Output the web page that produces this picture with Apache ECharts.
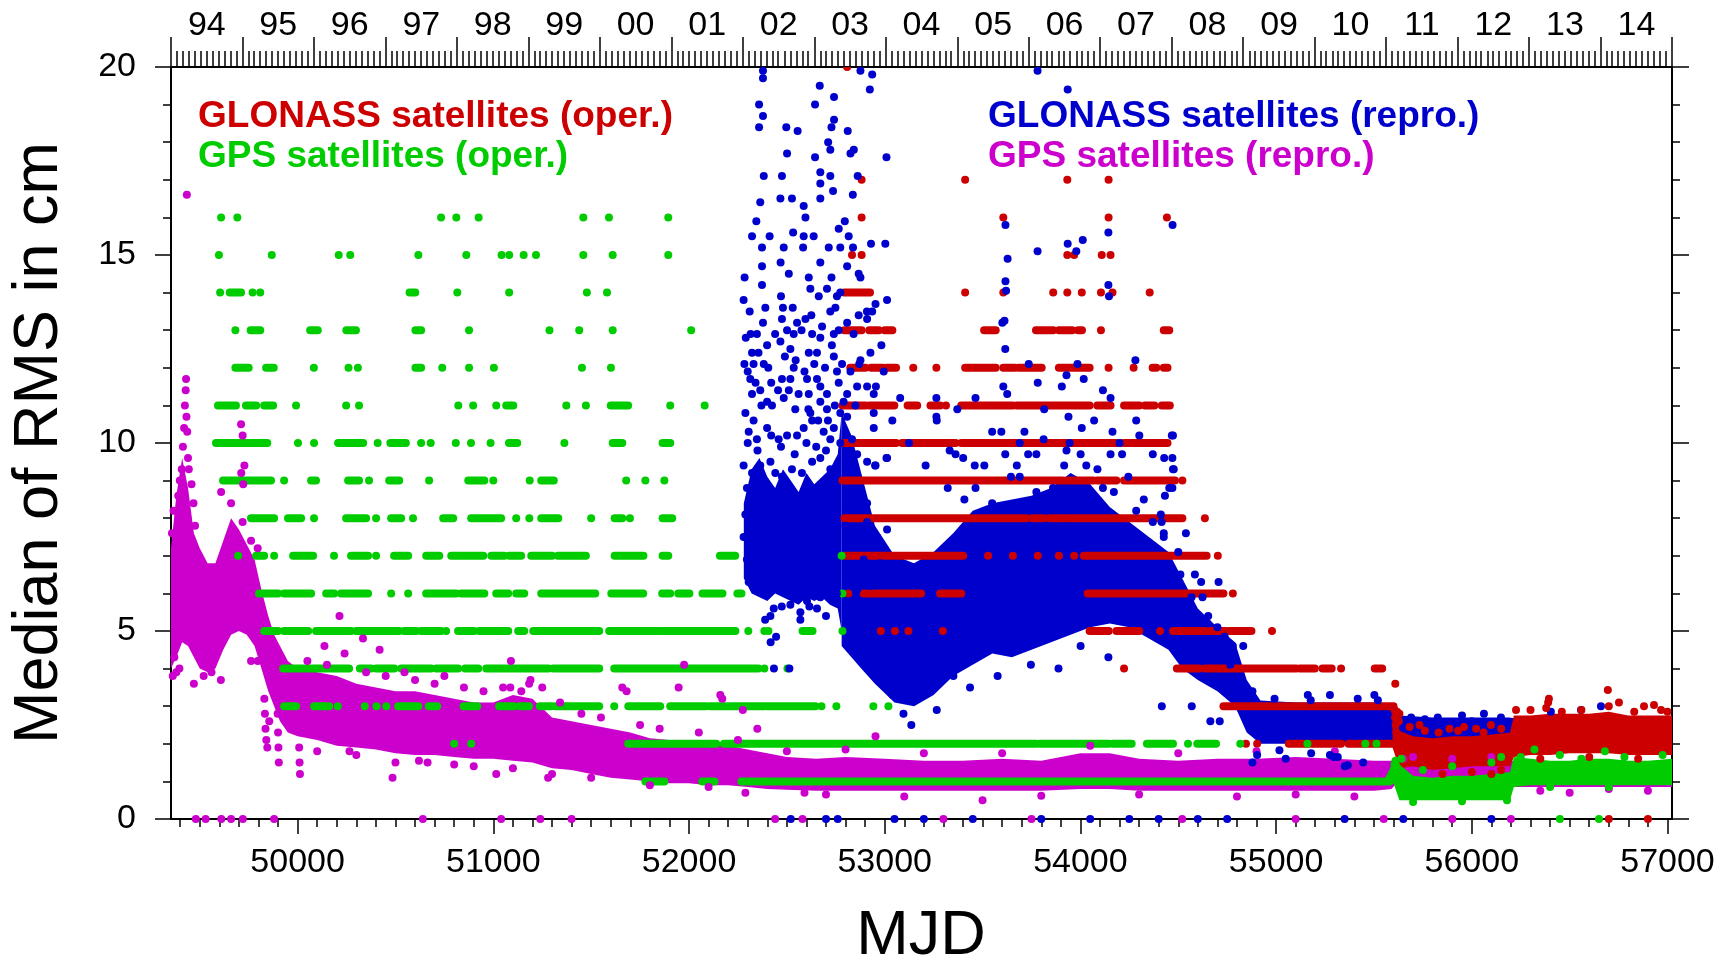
<!DOCTYPE html>
<html>
<head>
<meta charset="utf-8">
<title>Median of RMS</title>
<script src="https://cdn.jsdelivr.net/npm/echarts@6.0.0/dist/echarts.min.js"></script>
<style>
  html, body { margin: 0; padding: 0; background: #fff; }
  #chart { width: 1735px; height: 965px; }
</style>
</head>
<body>
<div id="chart"></div>
<script>
// axis values
const xMin = 49353
const xMax = 57023
const xMajorTicks = [50000, 51000, 52000, 53000, 54000, 55000, 56000, 57000]
const yearStarts = [49353, 49718, 50083, 50449, 50814, 51179, 51544, 51910, 52275, 52640, 53005,
  53371, 53736, 54101, 54466, 54832, 55197, 55562, 55927, 56293, 56658, 57023]
const yearLabels = ['94', '95', '96', '97', '98', '99', '00', '01', '02', '03', '04',
  '05', '06', '07', '08', '09', '10', '11', '12', '13', '14']

// GPS satellites (repro.) - dense cloud envelope + loose points
const gpsReproBandX = [49353, 49380, 49410, 49440, 49470, 49500, 49540, 49580, 49620, 49660, 49700, 49740, 49780,
  49815, 49850, 49880, 49910, 49950, 50000, 50100, 50200, 50300, 50400, 50500, 50600, 50700, 50800, 50900, 51000,
  51100, 51200, 51300, 51400, 51500, 51600, 51700, 51800, 51900, 52000, 52100, 52200, 52300, 52400, 52500, 52650,
  52800, 53000, 53200, 53400, 53600, 53800, 54000, 54150, 54300, 54500, 54700, 54900, 55100, 55300, 55500, 55590,
  55630, 55800, 56000, 56190, 56220, 56500, 56800, 57023]
const gpsReproBandLo = [4.0, 4.3, 4.7, 4.6, 4.3, 4.0, 3.9, 4.0, 4.5, 4.9, 5.0, 4.9, 4.6,
  4.0, 3.4, 3.0, 2.6, 2.3, 2.2, 2.1, 1.95, 1.9, 1.85, 1.75, 1.7, 1.7, 1.65, 1.6, 1.6,
  1.55, 1.5, 1.35, 1.3, 1.2, 1.1, 1.05, 1.0, 0.95, 0.95, 0.9, 0.9, 0.85, 0.8, 0.78, 0.75,
  0.75, 0.75, 0.75, 0.75, 0.75, 0.75, 0.8, 0.8, 0.75, 0.75, 0.75, 0.75, 0.75, 0.75, 0.75, 0.8,
  1.05, 1.05, 1.05, 1.05, 0.85, 0.85, 0.85, 0.85]
const gpsReproBandHi = [7.2, 8.6, 9.6, 8.8, 7.6, 7.2, 6.8, 6.8, 7.4, 8.0, 7.7, 7.3, 6.9,
  6.1, 5.4, 4.9, 4.6, 4.2, 4.0, 3.9, 3.8, 3.6, 3.5, 3.4, 3.4, 3.3, 3.2, 3.1, 3.1,
  3.3, 3.2, 2.7, 2.6, 2.5, 2.4, 2.3, 2.15, 2.1, 2.05, 2.0, 1.95, 1.85, 1.75, 1.65, 1.6,
  1.65, 1.6, 1.55, 1.55, 1.6, 1.55, 1.75, 1.75, 1.6, 1.55, 1.6, 1.6, 1.65, 1.6, 1.55, 1.55,
  1.6, 1.6, 1.6, 1.6, 1.5, 1.5, 1.5, 1.5]
const gpsReproPoints = [[49434, 16.6], [49430, 11.7], [49428, 11.4], [49424, 11.0], [49432, 10.7], [49420, 10.4],
  [49436, 10.3], [49414, 9.9], [49440, 9.6], [49444, 9.3], [49408, 9.3], [49398, 9.0], [49390, 8.6], [49458, 8.9],
  [49468, 8.4], [49476, 7.8], [49366, 8.2], [49358, 7.6], [49362, 3.8], [49370, 4.3], [49380, 3.9], [49396, 4.0],
  [49470, 3.6], [49520, 3.8], [49490, 4.6], [49560, 3.9], [49608, 3.7], [49609, 8.7], [49660, 8.4], [49711, 10.5],
  [49719, 10.2], [49728, 9.4], [49722, 8.9], [49712, 9.2], [49719, 7.9], [49762, 7.4], [49796, 7.2], [49762, 4.2],
  [49796, 4.2], [49830, 3.2], [49833, 2.8], [49836, 2.4], [49840, 2.1], [49845, 1.9], [49855, 2.6], [49898, 2.8],
  [49900, 2.3], [49902, 1.9], [49904, 1.5], [50008, 1.9], [50010, 1.5], [50012, 1.2], [50265, 1.8], [50485, 1.1],
  [50664, 1.5], [51015, 1.2], [51280, 1.1], [50214, 5.4], [50137, 4.6], [50240, 4.4], [50334, 4.8], [50419, 4.5],
  [50546, 3.9], [50750, 3.8], [51090, 4.2], [51183, 3.6], [51190, 3.7], [51087, 3.5], [51143, 3.4], [51341, 3.1],
  [51659, 3.5], [51681, 3.4], [51947, 3.5], [51975, 4.1], [52160, 3.3], [52170, 3.2], [52275, 2.9], [52349, 2.4],
  [52953, 2.2], [52288, 0.7], [52590, 0.7], [53500, 0.5], [52700, 0.65], [53100, 0.6], [53800, 0.62], [54300, 0.65],
  [54800, 0.6], [55100, 0.65], [55400, 0.6], [55650, 1.6], [55700, 1.65], [55900, 1.6], [56100, 1.65], [56350, 0.75],
  [56500, 0.7], [56700, 0.8], [56900, 0.75],
  [50050, 4.2], [50150, 4.1], [50350, 3.9], [50450, 3.8], [50600, 3.7], [50700, 3.6], [50850, 3.5], [50950, 3.4],
  [51050, 3.5], [51250, 3.5], [51450, 2.8], [51550, 2.7], [51750, 2.5], [51850, 2.4], [52050, 2.3], [52250, 2.1],
  [52500, 1.8], [52800, 1.85], [53200, 1.75], [53600, 1.75], [54050, 1.95], [54500, 1.75], [54900, 1.8], [55300, 1.8],
  [50100, 1.8], [50300, 1.7], [50500, 1.5], [50800, 1.45], [51100, 1.35], [51300, 1.2], [51500, 1.1], [51800, 0.9],
  [52100, 0.85], [50620, 1.55], [50900, 1.4],
  [49480, 0], [49530, 0], [49610, 0], [49660, 0], [49720, 0], [49880, 0],
  [50640, 0], [51040, 0], [51240, 0], [51400, 0], [52440, 0], [52580, 0], [53300, 0], [53750, 0], [54520, 0],
  [55100, 0], [55550, 0], [55900, 0], [56200, 0]]

// GLONASS satellites (repro.)
const gloReproBlobX = [52280, 52320, 52360, 52400, 52440, 52480, 52520, 52560, 52600, 52640, 52680, 52720, 52760, 52780]
const gloReproBlobLo = [6.4, 6.0, 5.9, 5.8, 6.0, 5.9, 5.8, 5.7, 5.9, 5.8, 5.9, 5.7, 5.6, 5.0]
const gloReproBlobHi = [8.4, 9.3, 9.6, 9.1, 8.8, 9.3, 9.0, 8.7, 9.2, 8.9, 9.1, 9.3, 9.7, 10.8]
const gloReproBandX = [52780, 52830, 52880, 52950, 53050, 53150, 53250, 53350, 53450, 53550, 53650, 53750, 53850,
  53950, 54050, 54150, 54250, 54350, 54450, 54520, 54600, 54700, 54790, 54850, 54920, 55100, 55300, 55500, 55595,
  55630, 55800, 56000, 56190, 56250, 56500, 56800, 57023]
const gloReproBandLo = [4.6, 4.3, 4.0, 3.6, 3.1, 3.0, 3.3, 3.8, 4.1, 4.4, 4.3, 4.5, 4.7,
  4.9, 5.1, 5.2, 5.1, 4.8, 4.5, 4.0, 3.7, 3.4, 3.0, 2.3, 2.0, 2.0, 2.05, 2.0, 2.0,
  1.6, 1.6, 1.6, 1.7, 1.8, 1.8, 1.8, 1.8]
const gloReproBandHi = [10.8, 10.2, 9.2, 7.8, 7.0, 6.8, 7.1, 7.6, 8.2, 8.4, 8.5, 8.6, 8.8,
  9.2, 8.9, 8.3, 7.9, 7.5, 7.1, 6.4, 5.6, 5.1, 4.7, 3.7, 3.15, 3.1, 3.1, 3.1, 3.0,
  2.75, 2.7, 2.7, 2.7, 2.65, 2.65, 2.65, 2.65]
const gloReproPoints = [[52378, 19.9], [52378, 19.7], [52358, 19.0], [52378, 18.7], [52358, 18.4], [52497, 18.4],
  [52555, 18.3], [52668, 19.5], [52741, 19.2], [52644, 19.0], [52741, 18.6], [52728, 18.4], [52711, 18.0], [52722, 17.8],
  [52811, 18.3], [52842, 17.8], [52825, 17.7], [52876, 19.9], [52936, 19.8], [52924, 19.4], [53009, 17.6], [52501, 17.7],
  [52644, 17.6], [52382, 17.1], [52475, 17.1], [52671, 17.2], [52722, 17.1], [52671, 16.9], [52736, 16.7], [52671, 16.5],
  [52862, 17.1], [52837, 16.6], [52364, 16.4], [52467, 16.5], [52526, 16.5], [52586, 16.3], [52595, 16.0], [52344, 15.9],
  [52322, 15.5], [52412, 15.5], [52532, 15.6], [52586, 15.5], [52637, 15.5], [52373, 15.2], [52484, 15.2], [52583, 15.2],
  [52714, 15.2], [52765, 15.7], [52796, 15.9], [52816, 15.5], [52773, 15.2], [52838, 15.2], [52930, 15.3], [53003, 15.3],
  [52468, 14.8], [52671, 14.8], [52373, 14.7], [52284, 14.4], [52510, 14.5], [52612, 14.4], [52728, 14.4], [52808, 14.7],
  [52867, 14.5], [52876, 14.4], [52373, 14.2], [52620, 14.1], [52663, 13.9], [52705, 14.1], [52756, 13.9], [52773, 14.0],
  [52279, 13.8], [52310, 13.5], [52480, 13.6], [52748, 13.6], [52722, 13.5], [52953, 13.7], [53012, 13.8], [52378, 13.2],
  [52475, 13.3], [52552, 13.2], [52595, 13.3], [52347, 12.9], [52501, 13.0], [52535, 12.9], [52629, 12.9], [52671, 12.8],
  [52740, 12.9], [52808, 13.2], [52867, 13.4], [52910, 13.3], [52936, 13.5], [52322, 12.4], [52399, 12.6], [52467, 12.7],
  [52518, 12.5], [52612, 12.4], [52654, 12.4], [52740, 12.3], [52782, 12.1], [52876, 12.2], [52927, 12.4], [52283, 12.1],
  [52330, 12.1], [52382, 12.1], [52535, 12.0], [52756, 11.9], [52825, 11.9], [52995, 11.9], [52313, 11.7], [52475, 11.7],
  [52518, 11.7], [52603, 11.7], [52654, 11.7], [52671, 11.5], [52705, 11.3], [52322, 11.3], [52364, 11.4], [52399, 11.1],
  [52484, 11.2], [52612, 11.3], [52765, 11.6], [52808, 11.3], [52859, 11.5], [52910, 11.5], [52944, 11.3], [52424, 11.0],
  [52543, 10.9], [52620, 10.8], [52671, 11.1], [52705, 10.9], [52773, 10.8], [52808, 10.7], [52850, 11.0], [52944, 10.8],
  [52288, 10.8], [52330, 10.6], [52305, 10.3], [52347, 10.1], [52399, 10.4], [52458, 10.1], [52501, 10.2], [52552, 10.2],
  [52586, 10.4], [52629, 10.6], [52688, 10.3], [52722, 10.1], [52773, 10.0], [52833, 10.1], [52944, 10.4], [53012, 9.6],
  [52279, 9.4], [52322, 9.2], [52364, 9.4], [52416, 9.5], [52441, 9.2], [52475, 9.1], [52526, 9.3], [52577, 9.2],
  [52629, 9.5], [52671, 9.6], [52722, 9.3], [52756, 9.2], [52808, 9.7], [52859, 9.7], [52910, 9.5], [52953, 9.4],
  [52296, 8.8], [52330, 8.4], [52390, 8.7], [52433, 8.4], [52501, 8.7], [52569, 8.5], [52603, 8.3], [52663, 8.4],
  [52705, 8.6], [52748, 8.2], [52859, 8.7], [52910, 8.4], [52288, 8.1], [52322, 7.8], [52382, 7.9], [52441, 7.7],
  [52484, 8.1], [52526, 7.8], [52595, 8.0], [52654, 7.7], [52680, 7.9], [52799, 7.8], [52850, 7.6], [52910, 7.9],
  [52961, 7.5], [53012, 7.7], [52279, 7.5], [52313, 7.3], [52407, 7.4], [52467, 7.2], [52518, 7.4], [52569, 7.3],
  [52603, 7.5], [52671, 7.2], [52756, 7.3], [52808, 7.4], [52876, 7.3], [52944, 7.4], [52296, 6.9], [52347, 6.8],
  [52416, 6.9], [52450, 6.6], [52501, 6.7], [52560, 6.9], [52620, 6.8], [52654, 6.6], [52705, 6.9], [52842, 6.7],
  [52893, 6.9], [52978, 6.8], [53046, 6.7], [53080, 6.3], [52305, 6.3], [52382, 6.1], [52441, 6.3], [52492, 6.2],
  [52543, 6.0], [52612, 6.3], [52671, 6.2], [52756, 6.0], [52859, 6.1], [52927, 6.2], [52995, 6.3], [52433, 5.6],
  [52518, 5.7], [52569, 5.5], [52603, 5.8], [52654, 5.6], [52416, 5.4], [52569, 5.3], [52910, 5.6], [52961, 5.4],
  [53029, 5.6], [53115, 5.5], [52389, 5.3], [52445, 4.85], [52513, 4.0], [52417, 4.7], [52474, 5.65], [52558, 5.9],
  [52615, 5.65], [52671, 5.9], [52700, 5.4], [52434, 4.0], [52332, 6.5],
  [52290, 12.8], [52300, 11.9], [52315, 12.9], [52340, 11.6], [52355, 12.4], [52370, 11.0], [52390, 13.6], [52405, 12.0],
  [52420, 11.6], [52440, 12.9], [52455, 11.4], [52470, 13.9], [52490, 12.3], [52510, 11.4], [52530, 13.6], [52545, 12.2],
  [52560, 11.3], [52575, 13.0], [52590, 11.9], [52610, 10.9], [52625, 13.4], [52640, 12.1], [52660, 10.6], [52680, 13.1],
  [52695, 12.0], [52710, 10.6], [52730, 12.6], [52745, 11.0], [52765, 13.0], [52790, 11.1], [52300, 10.0], [52350, 9.8],
  [52420, 10.2], [52470, 9.9], [52540, 9.7], [52600, 10.0], [52650, 9.9], [52700, 9.8], [52740, 10.4],
  [52841, 12.9], [52870, 12.1], [52909, 13.5], [52955, 11.5], [52983, 12.6], [53039, 10.6], [53079, 11.2], [53124, 10.0],
  [53209, 9.4], [53266, 10.6], [53322, 8.8], [53362, 9.7], [53407, 8.5], [53464, 11.2], [53509, 9.4], [53549, 10.3],
  [53606, 11.5], [53645, 9.1], [53690, 10.0], [53736, 12.1], [53775, 9.7], [53815, 10.9], [53860, 8.8], [53905, 11.5],
  [53945, 10.0], [53985, 12.1], [54030, 9.4], [54070, 10.6], [54115, 8.8], [54154, 11.2], [54200, 10.0], [54245, 9.1],
  [54285, 10.6], [54324, 8.5], [54370, 9.7], [54415, 7.9], [54454, 8.8], [54500, 7.1], [54539, 7.6], [54585, 6.5],
  [54624, 5.9],
  [53616, 12.5], [53626, 11.3], [53782, 11.6], [53929, 11.8], [54017, 11.7], [54115, 11.4], [54281, 12.2], [53264, 11.2],
  [53371, 10.9], [53264, 10.7], [53596, 10.3], [53714, 10.3], [53812, 10.1], [53939, 10.7], [54007, 10.4], [54164, 10.3],
  [54301, 10.2], [54467, 10.2], [53009, 9.6], [52951, 9.4], [53332, 9.8], [53401, 9.6], [53460, 9.4], [53616, 9.7],
  [53675, 9.4], [53733, 9.7], [53929, 9.8], [54154, 9.7], [54213, 9.7], [54428, 9.6], [54477, 9.3],
  [53781, 19.9], [53935, 19.4], [53617, 15.8], [53628, 14.9], [53617, 14.3], [53620, 14.05], [53601, 13.2], [53781, 15.1],
  [53935, 15.3], [53979, 15.1], [54012, 15.4], [54143, 15.6], [54143, 14.2], [54146, 13.9], [54471, 15.8], [53612, 13.25],
  [54473, 10.2], [54470, 9.6], [54473, 9.3], [54470, 8.8], [54432, 8.6], [54426, 7.5], [54411, 8.1], [54617, 6.3],
  [54706, 6.3], [54779, 4.6], [54832, 4.6], [54650, 5.2], [54700, 5.1], [54730, 4.8],
  [53136, 2.5], [53096, 2.8], [53181, 3.4], [53266, 2.9], [53040, 3.3], [53351, 3.8], [53436, 3.5], [53577, 3.8],
  [53747, 4.1], [53888, 4.0], [54001, 4.6], [54143, 4.3],
  [53464, 8.8], [53549, 8.4], [53690, 9.1], [53775, 8.7], [53917, 9.4], [54001, 9.7], [54087, 9.3], [54171, 8.7],
  [54285, 8.2], [54370, 7.9], [54426, 7.6], [54511, 6.5], [54568, 5.9], [54653, 5.4],
  [54737, 4.85], [54681, 4.4], [54766, 4.1], [54879, 3.4], [54992, 3.2], [55162, 3.3], [55275, 3.3], [55417, 3.2],
  [55502, 3.3], [55177, 3.16], [55520, 3.16], [54416, 3.0], [54569, 3.0], [54664, 2.6], [54712, 2.6], [54903, 1.7],
  [55017, 1.83], [55179, 1.75], [55351, 1.4], [55294, 1.65], [55408, 2.7], [54879, 1.5], [55049, 1.6], [55275, 1.7],
  [55445, 1.5], [55366, 1.43], [55315, 1.65],
  [55690, 2.7], [55826, 2.7], [56062, 2.8], [56149, 2.7], [56404, 2.85], [56558, 2.9], [56660, 3.0], [55950, 2.75],
  [55760, 2.65], [56000, 2.6],
  [52520, 0], [52700, 0], [52760, 0], [53050, 0], [53200, 0], [53450, 0], [53800, 0], [54050, 0], [54250, 0],
  [54400, 0], [54600, 0], [54750, 0], [55350, 0], [55650, 0], [56100, 0]]

// GLONASS satellites (oper.) - integer rows: [value, [day or [from, to], ...]]
const gloOperRows = [
  [20, [52808]],
  [17, [52882, 53411, 53933, 54144]],
  [16, [52882, 53606, 54144, 54442]],
  [15, [52833, 52882, 53933, 53968, 54109, 54154]],
  [14, [[52794, 52925], 53411, 53606, 53861, 53933, 54007, 54105, 54164, 54354]],
  [13, [[52794, 52882], [52921, 52970], [53000, 53039], [53508, 53567], [53773, 53861], [53890, 53958], [53988, 54008], 54105, [54426, 54454]]],
  [12, [[52824, 52902], [52931, 52990], [53009, 53058], 53146, 53264, [53411, 53567], [53606, 53665], [53684, 53802], [53890, 54047], 54144, 54272, [54369, 54388], [54426, 54445]]],
  [11, [[52784, 52902], [52921, 53049], [53117, 53166], [53234, 53283], 53313, [53391, 53655], [53675, 54047], [54086, 54154], [54223, 54301], [54330, 54378], [54416, 54457]]],
  [10, [[52784, 53058], [53088, 53362], [53391, 54203], [54223, 54445]]],
  [9, [[52784, 53910], [53929, 54066], [54086, 54184], [54223, 54483], 54521]],
  [8, [[52794, 53724], [53753, 53812], [53841, 53919], [53939, 54521], 54636]],
  [7, [[52794, 53401], 53528, 53655, 53782, 53890, 53968, [54017, 54645], 54702]],
  [6, [52814, [52892, 53186], [53283, 53391], [54037, 54731], 54779]],
  [5, [52980, 53052, 53121, 53297, [54047, 54145], [54184, 54301], 54407, [54473, 54741], [54760, 54874], 54979]],
  [4, [54223, [54493, 54607], [54636, 55103], [55122, 55198], [55237, 55284], 55332, [55504, 55542]]],
  [3, [[54731, 55600]]],
  [2, [54846, 54903, [55065, 55160], [55179, 55332], [55370, 55600]]]
]
const gloOperBandX = [55595, 55630, 55700, 55800, 55900, 56000, 56100, 56195, 56215, 56300, 56400, 56500, 56600, 56700, 56800, 56900, 57023]
const gloOperBandLo = [1.9, 1.35, 1.4, 1.3, 1.35, 1.4, 1.4, 1.4, 1.65, 1.7, 1.7, 1.75, 1.75, 1.75, 1.7, 1.7, 1.7]
const gloOperBandHi = [3.0, 2.35, 2.2, 2.15, 2.2, 2.2, 2.25, 2.3, 2.75, 2.75, 2.8, 2.8, 2.8, 2.85, 2.75, 2.75, 2.75]
const gloOperPoints = [[55605, 2.9], [55608, 2.7], [55611, 2.5], [55614, 2.3], [55617, 2.1], [55620, 1.95], [55624, 2.2],
  [55627, 2.6], [55630, 2.8], [55618, 2.85], [55609, 3.6], [55682, 2.45], [55733, 2.5], [55886, 2.4], [55960, 2.45],
  [56022, 2.4], [56098, 2.5], [55760, 2.35], [55830, 2.3], [55930, 2.35], [56060, 2.3], [56150, 2.4],
  [56226, 2.9], [56300, 2.9], [56380, 2.95], [56390, 3.1], [56394, 3.2], [56460, 2.85],
  [56560, 2.9], [56599, 2.63], [56695, 3.43], [56700, 3.0], [56752, 3.1], [56830, 2.85], [56880, 3.0], [56931, 3.03],
  [56967, 2.9], [57000, 2.85], [55850, 1.2], [56000, 1.25], [56100, 1.2], [56150, 1.3], [56350, 1.6], [56600, 1.65],
  [56850, 1.6], [56700, 0], [56900, 0]]

// GPS satellites (oper.)
const gpsOperRows = [
  [16, [49609, 49692, 50733, 50811, 50925, 51460, 51591, 51894]],
  [15, [49598, 49868, 50210, 50269, 50617, 50862, 51042, 51081, 51155, 51218, 51460, 51610, 51894]],
  [14, [49604, [49653, 49711], 49770, 49809, [50572, 50601], 50816, 51081, 51478, 51581]],
  [13, [49682, [49760, 49809], [50064, 50103], [50249, 50298], [50602, 50631], 50876, 51287, 51439, 51610, 52011]],
  [12, [[49682, 49750], [49839, 49878], 50083, 50260, 50308, [50602, 50631], 50739, 50876, 51003, 51453, 51601]],
  [11, [[49593, 49685], [49736, 49788], [49829, 49875], 49992, 50248, 50314, 50821, 50897, 51015, [51066, 51102], 51373, 51473, [51600, 51689], 51904, 52080]],
  [10, [[49583, 49845], 50002, 50084, [50207, 50335], 50409, [50474, 50553], 50631, 50680, 50808, 50886, 50986, [51080, 51122], 51363, [51610, 51659], [51865, 51904]]],
  [9, [[49619, 49864], 49931, [50069, 50094], [50258, 50314], 50365, [50468, 50519], 50672, [50872, 50954], 51000, 51186, [51245, 51309], 51679, 51777, 51874]],
  [8, [[49762, 49880], [49951, 50018], 50084, [50248, 50350], 50401, [50478, 50529], 50590, [50744, 50795], [50887, 51040], 51117, 51184, [51245, 51332], 51500, [51620, 51659], 51698, [51865, 51914]]],
  [7, [49696, [49788, 49829], 49880, [49977, 50079], 50186, [50273, 50360], 50401, [50493, 50565], [50657, 50724], [50785, 50949], [50990, 51056], [51081, 51142], [51194, 51300], [51330, 51473], [51620, 51767], [51865, 51894], [52158, 52236], 52780]],
  [6, [[49803, 49900], [49931, 50069], [50146, 50187], [50222, 50360], 50478, 50565, [50657, 50810], [50836, 50954], [51015, 51076], [51117, 51158], [51245, 51521], [51603, 51766], [51863, 51904], [51945, 52002], [52069, 52171], [52247, 52268], 52784]],
  [5, [[49829, 49900], [49931, 50054], [50094, 50273], [50299, 50519], [50544, 50606], [50631, 50733], 50759, [50820, 50902], [50928, 51076], [51127, 51158], [51204, 51541], [51592, 51828], [51843, 52237], 52303, 52385, 52406, [52580, 52631], 52784]],
  [4, [[49926, 50263], [50318, 50376], [50401, 50494], [50529, 50682], [50708, 50820], [50856, 50923], [50964, 51281], [51306, 51541], [51618, 52354], 52385, 52503]],
  [3, [[49931, 49992], [50084, 50161], 50205, 50343, 50403, 50453, [50514, 50616], [50670, 50713], [50848, 50918], [51030, 51105], [51135, 51182], [51238, 51296], [51316, 51541], 51618, [51690, 51853], [51904, 52089], [52109, 52385], [52400, 52646], 52677, 52753, 52942, 53019]],
  [2, [50800, 50887, [51689, 52139], [52178, 53773], [53792, 54144], [54164, 54262], [54340, 54473], 54550, [54597, 54693], 54817, 55160, 55456, 55513]],
  [1, [[51777, 51874], [52068, 52130], [52268, 52324], [52345, 55580]]]
]
const gpsOperBandX = [55575, 55600, 55630, 55700, 55800, 55900, 56000, 56100, 56195, 56215, 56300, 56400, 56500, 56600, 56700, 56800, 56900, 57023]
const gpsOperBandLo = [0.95, 0.95, 0.5, 0.5, 0.5, 0.5, 0.5, 0.5, 0.5, 0.85, 0.9, 0.9, 0.9, 0.9, 0.9, 0.9, 0.9, 0.9]
const gpsOperBandHi = [1.1, 1.5, 1.45, 1.15, 1.1, 1.15, 1.15, 1.2, 1.25, 1.65, 1.6, 1.55, 1.55, 1.6, 1.6, 1.55, 1.55, 1.6]
const gpsOperPoints = [[55580, 1.1], [55590, 1.2], [55600, 1.3], [55605, 1.45], [55610, 1.55], [55615, 1.4], [55620, 1.2],
  [55640, 1.6], [55750, 1.3], [55900, 1.4], [56100, 1.5], [56150, 1.65], [56250, 1.65], [56320, 1.85], [56450, 1.7],
  [56560, 1.6], [56680, 1.8], [56780, 1.65], [56975, 1.7], [55700, 0.45], [55950, 0.47], [56180, 0.5], [56400, 0.85],
  [56700, 0.85], [56450, 0], [56650, 0]]

const RED = '#cc0000'
const GREEN = '#00cc00'
const BLUE = '#0000cc'
const MAGENTA = '#cc00cc'
const FONT = 'Liberation Sans, Arial, Helvetica, sans-serif'
const DOT = 8

// tick positions
let xMinorTicks = []
for (let v = 49400; v <= 57000; v += 100) xMinorTicks.push(v)
let monthTicks = []
for (let y = 1994; y <= 2014; y++) {
  for (let m = 0; m < 12; m++) monthTicks.push(Date.UTC(y, m, 1) / 86400000 + 40587)
}
monthTicks.push(xMax)
let yearMids = []
for (let i = 0; i < yearLabels.length; i++) {
  yearMids.push(Math.round((yearStarts[i] + yearStarts[i + 1]) / 2))
}

function toRuns (rows) {
  let out = []
  rows.forEach(row => {
    row[1].forEach(it => {
      if (Array.isArray(it)) out.push([it[0], it[1], row[0]])
      else out.push([it, it, row[0]])
    })
  })
  return out
}

function bandSeries (name, xs, lo, hi, color) {
  return {
    name: name,
    type: 'custom',
    clip: true,
    silent: true,
    data: [[xs[0], lo[0]]],
    renderItem: function (params, api) {
      let pts = []
      for (let i = 0; i < xs.length; i++) pts.push(api.coord([xs[i], hi[i]]))
      for (let i = xs.length - 1; i >= 0; i--) pts.push(api.coord([xs[i], lo[i]]))
      return { type: 'polygon', shape: { points: pts }, style: { fill: color } }
    }
  }
}

function runSeries (name, runs, color) {
  return {
    name: name,
    type: 'custom',
    clip: true,
    silent: true,
    data: runs,
    encode: { x: [0, 1], y: 2 },
    renderItem: function (params, api) {
      let a = api.coord([api.value(0), api.value(2)])
      let b = api.coord([api.value(1), api.value(2)])
      let r = DOT / 2
      return {
        type: 'rect',
        shape: { x: a[0] - r, y: a[1] - r, width: b[0] - a[0] + DOT, height: DOT, r: r },
        style: { fill: color }
      }
    }
  }
}

function dotSeries (name, pts, color) {
  return {
    name: name,
    type: 'scatter',
    clip: true,
    silent: true,
    symbol: 'circle',
    symbolSize: DOT,
    itemStyle: { color: color, opacity: 1 },
    data: pts
  }
}

function legendText (x, y, text, color) {
  return {
    type: 'text',
    x: x,
    y: y,
    style: {
      text: text,
      fill: color,
      font: 'bold 37px ' + FONT,
      textAlign: 'left',
      textVerticalAlign: 'middle',
      align: 'left',
      verticalAlign: 'middle'
    }
  }
}

let tickStyle = { color: '#000', width: 1.5 }
let lineStyle = { color: '#000', width: 2 }
let labelStyle = { color: '#000', fontSize: 34, fontFamily: FONT }

let option = {
  animation: false,
  backgroundColor: '#fff',
  grid: { left: 171, right: 63, top: 67, bottom: 146, containLabel: false, outerBoundsMode: 'none' },
  xAxis: [
    {
      type: 'value',
      position: 'bottom',
      min: xMin,
      max: xMax,
      axisLine: { show: true, onZero: false, lineStyle: lineStyle },
      axisTick: { show: true, length: 15, lineStyle: tickStyle, customValues: xMajorTicks },
      axisLabel: Object.assign({ margin: 27, customValues: xMajorTicks, formatter: v => String(v) }, labelStyle),
      splitLine: { show: false }
    },
    {
      type: 'value',
      position: 'bottom',
      min: xMin,
      max: xMax,
      axisLine: { show: false, onZero: false },
      axisTick: { show: true, length: 8, lineStyle: tickStyle, customValues: xMinorTicks },
      axisLabel: { show: false },
      splitLine: { show: false }
    },
    {
      type: 'value',
      position: 'top',
      min: xMin,
      max: xMax,
      axisLine: { show: true, onZero: false, lineStyle: lineStyle },
      axisTick: { show: true, length: 30, lineStyle: tickStyle, customValues: yearStarts },
      axisLabel: Object.assign({
        margin: 24,
        customValues: yearMids,
        formatter: function (v) {
          let i = yearMids.indexOf(Math.round(v))
          return i >= 0 ? yearLabels[i] : ''
        }
      }, labelStyle),
      splitLine: { show: false }
    },
    {
      type: 'value',
      position: 'top',
      min: xMin,
      max: xMax,
      axisLine: { show: false, onZero: false },
      axisTick: { show: true, length: 16, lineStyle: tickStyle, customValues: monthTicks },
      axisLabel: { show: false },
      splitLine: { show: false }
    }
  ],
  yAxis: [
    {
      type: 'value',
      position: 'left',
      min: 0,
      max: 20,
      interval: 5,
      axisLine: { show: true, onZero: false, lineStyle: lineStyle },
      axisTick: { show: true, length: 16, lineStyle: tickStyle },
      minorTick: { show: true, splitNumber: 5, length: 8, lineStyle: tickStyle },
      axisLabel: Object.assign({ margin: 35 }, labelStyle),
      splitLine: { show: false },
      minorSplitLine: { show: false }
    },
    {
      type: 'value',
      position: 'right',
      min: 0,
      max: 20,
      interval: 5,
      axisLine: { show: true, onZero: false, lineStyle: lineStyle },
      axisTick: { show: true, length: 17, lineStyle: tickStyle },
      minorTick: { show: true, splitNumber: 5, length: 8, lineStyle: tickStyle },
      axisLabel: { show: false },
      splitLine: { show: false },
      minorSplitLine: { show: false }
    }
  ],
  series: [
    bandSeries('GPS repro band', gpsReproBandX, gpsReproBandLo, gpsReproBandHi, MAGENTA),
    dotSeries('GPS satellites (repro.)', gpsReproPoints, MAGENTA),
    bandSeries('GLONASS repro 2002', gloReproBlobX, gloReproBlobLo, gloReproBlobHi, BLUE),
    bandSeries('GLONASS repro band', gloReproBandX, gloReproBandLo, gloReproBandHi, BLUE),
    dotSeries('GLONASS satellites (repro.)', gloReproPoints, BLUE),
    runSeries('GLONASS oper rows', toRuns(gloOperRows), RED),
    bandSeries('GLONASS oper band', gloOperBandX, gloOperBandLo, gloOperBandHi, RED),
    dotSeries('GLONASS satellites (oper.)', gloOperPoints, RED),
    runSeries('GPS oper rows', toRuns(gpsOperRows), GREEN),
    bandSeries('GPS oper band', gpsOperBandX, gpsOperBandLo, gpsOperBandHi, GREEN),
    dotSeries('GPS satellites (oper.)', gpsOperPoints, GREEN)
  ],
  graphic: [
    legendText(198, 117, 'GLONASS satellites (oper.)', RED),
    legendText(198, 157, 'GPS satellites (oper.)', GREEN),
    legendText(988, 117, 'GLONASS satellites (repro.)', BLUE),
    legendText(988, 157, 'GPS satellites (repro.)', MAGENTA),
    {
      type: 'text',
      x: 921,
      y: 937,
      style: { text: 'MJD', fill: '#000', font: '63px ' + FONT, textAlign: 'center', textVerticalAlign: 'middle', align: 'center', verticalAlign: 'middle' }
    },
    {
      type: 'text',
      x: 40,
      y: 443,
      rotation: Math.PI / 2,
      style: { text: 'Median of RMS in cm', fill: '#000', font: '63px ' + FONT, textAlign: 'center', textVerticalAlign: 'middle', align: 'center', verticalAlign: 'middle' }
    }
  ]
}

let chart = echarts.init(document.getElementById('chart'), null, { renderer: 'canvas' })
chart.setOption(option)
</script>
</body>
</html>
